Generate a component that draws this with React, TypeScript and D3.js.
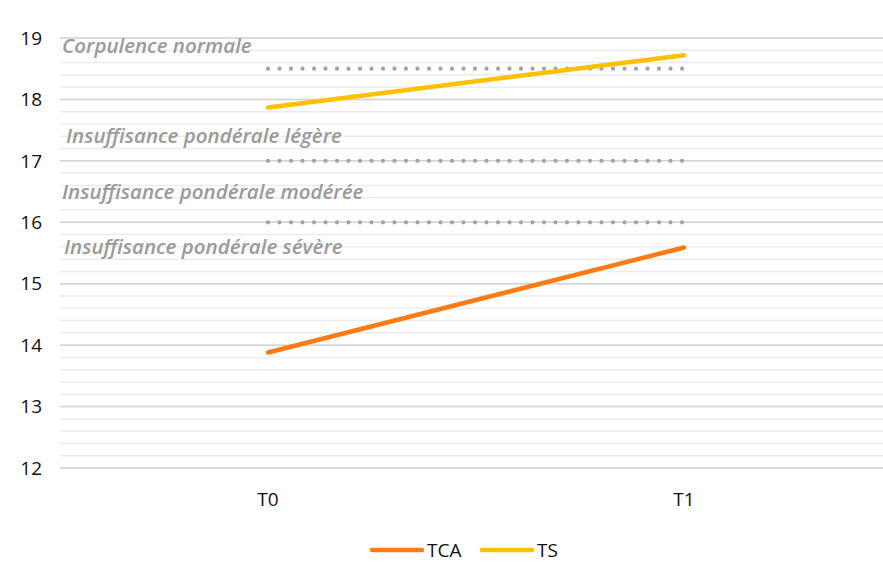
import React from 'react'
import * as d3 from 'd3'

const periods = ['T0', 'T1']
const tcaValues = [13.88, 15.59]
const tsValues = [17.87, 18.72]
const seriesNames = ['TCA', 'TS']
const yTicks = [12, 13, 14, 15, 16, 17, 18, 19]
const thresholds = [18.5, 17, 16]
const zoneLabels = [
  'Corpulence normale',
  'Insuffisance pondérale légère',
  'Insuffisance pondérale modérée',
  'Insuffisance pondérale sévère',
]
const zoneLabelValues = [18.88, 17.4, 16.5, 15.6]

const width = 883
const height = 567
const margin = { left: 60, top: 38, right: -9, bottom: 99 }
const innerWidth = width - margin.left - margin.right
const innerHeight = height - margin.top - margin.bottom

const colors = { TCA: '#FF7A12', TS: '#FFC000' }

const xScale = d3.scaleBand().domain(periods).range([0, innerWidth])
const yScale = d3.scaleLinear().domain([12, 19]).range([innerHeight, 0])
const minorTicks = d3.range(12, 19.01, 0.2)

const lineGen = d3
  .line<number>()
  .x((d, i) => xScale(periods[i])! + xScale.bandwidth() / 2)
  .y(d => yScale(d))

function Grid() {
  return (
    <g>
      {minorTicks.map(t => (
        <line key={'m' + t} x1={0} x2={innerWidth} y1={yScale(t)} y2={yScale(t)} stroke="#ececec" strokeWidth={1.5} />
      ))}
      {yTicks.map(t => (
        <line key={t} x1={0} x2={innerWidth} y1={yScale(t)} y2={yScale(t)} stroke="#d4d4d4" strokeWidth={1.5} />
      ))}
    </g>
  )
}

function YLabels() {
  return (
    <g>
      {yTicks.map(t => (
        <text
          key={t}
          x={-18}
          y={yScale(t)}
          dy="0.35em"
          textAnchor="end"
          fontSize={19}
          fontWeight={500}
          fontFamily="'Open Sans', sans-serif"
          fill="#111"
        >
          {t}
        </text>
      ))}
    </g>
  )
}

function XLabels() {
  return (
    <g>
      {periods.map(p => (
        <text
          key={p}
          x={xScale(p)! + xScale.bandwidth() / 2}
          y={innerHeight + 31}
          dy="0.35em"
          textAnchor="middle"
          fontSize={19}
          fontWeight={500}
          fontFamily="'Open Sans', sans-serif"
          fill="#111"
        >
          {p}
        </text>
      ))}
    </g>
  )
}

function Thresholds() {
  const x0 = xScale(periods[0])! + xScale.bandwidth() / 2
  const x1 = xScale(periods[1])! + xScale.bandwidth() / 2
  return (
    <g>
      {thresholds.map(t => (
        <line
          key={t}
          x1={x0}
          x2={x1}
          y1={yScale(t)}
          y2={yScale(t)}
          stroke="#a3a3a3"
          strokeWidth={4.2}
          strokeLinecap="round"
          strokeDasharray="0 11.5"
        />
      ))}
    </g>
  )
}

function ZoneLabels() {
  return (
    <g>
      {zoneLabels.map((l, i) => (
        <text
          key={l}
          x={i === 1 ? 6 : i === 3 ? 4 : 2}
          y={yScale(zoneLabelValues[i])}
          dy="0.35em"
          fontSize={20.5}
          fontStyle="italic"
          fontWeight={600}
          fontFamily="'Open Sans', sans-serif"
          fill="#9a9a9a"
        >
          {l}
        </text>
      ))}
    </g>
  )
}

function Legend() {
  const y = height - 17
  const items = [
    { name: seriesNames[0], x: 372, color: colors.TCA },
    { name: seriesNames[1], x: 482, color: colors.TS },
  ]
  return (
    <g>
      {items.map(it => (
        <g key={it.name}>
          <line x1={it.x} x2={it.x + 50} y1={y} y2={y} stroke={it.color} strokeWidth={4.5} strokeLinecap="round" />
          <text x={it.x + 55} y={y} dy="0.35em" fontSize={19} fontWeight={500} fontFamily="'Open Sans', sans-serif" fill="#111">
            {it.name}
          </text>
        </g>
      ))}
    </g>
  )
}

export default function App() {
  return (
    <svg width={width} height={height} style={{ position: 'absolute', left: 0, top: 0, background: '#fff' }}>
      <g transform={`translate(${margin.left}, ${margin.top})`}>
        <Grid />
        <YLabels />
        <XLabels />
        <Thresholds />
        <ZoneLabels />
        <path d={lineGen(tcaValues) || ''} fill="none" stroke={colors.TCA} strokeWidth={4.5} strokeLinecap="round" />
        <path d={lineGen(tsValues) || ''} fill="none" stroke={colors.TS} strokeWidth={4.5} strokeLinecap="round" />
      </g>
      <Legend />
    </svg>
  )
}
